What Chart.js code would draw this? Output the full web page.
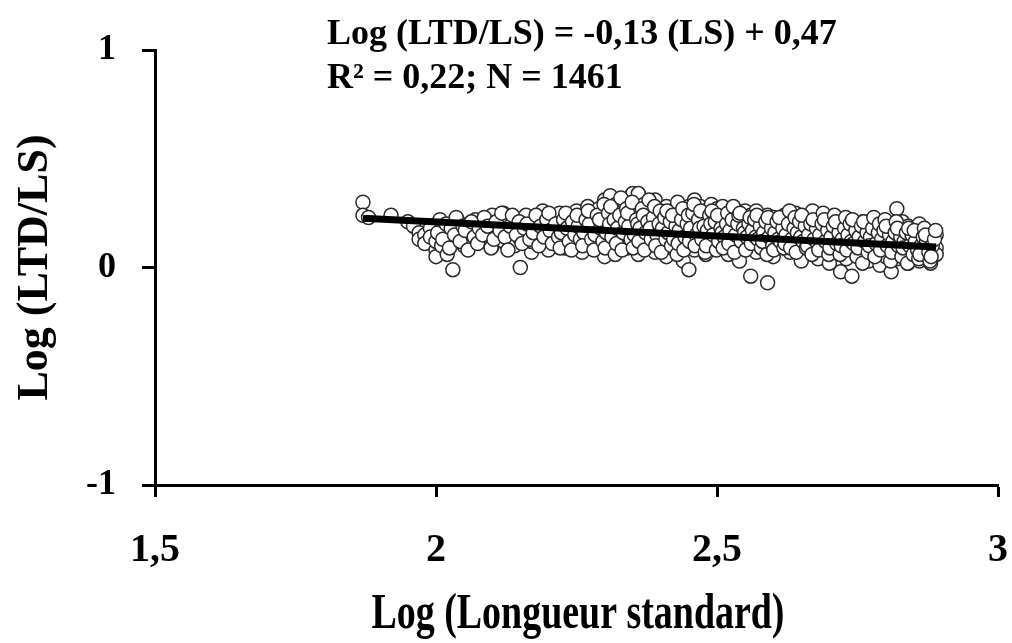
<!DOCTYPE html>
<html lang="fr">
<head>
  <meta charset="UTF-8" />
  <title>Log (LTD/LS) vs Log (Longueur standard)</title>
  <script src="https://cdn.jsdelivr.net/npm/chart.js@4.4.0/dist/chart.umd.min.js"></script>
  <style>
    body { margin: 0; background: #fff; }
    #wrap { width: 1012px; height: 643px; }
  </style>
</head>
<body>
  <div id="wrap"><canvas id="chart" width="1012" height="643"></canvas></div>

  <script>
    // points : [log LS, log (LTD/LS)]
    const points = [
      [1.87,0.30],[1.87,0.24],[1.88,0.23],[1.92,0.24],[1.95,0.21],[1.96,0.19],[1.97,0.16],[1.97,0.13],
      [1.98,0.15],[1.98,0.11],[1.99,0.18],[1.99,0.14],[2.00,0.08],[2.00,0.05],[2.00,0.12],[2.01,0.17],
      [2.01,0.10],[2.02,0.14],[2.02,0.19],[2.02,0.06],[2.03,-0.01],[2.03,0.12],[2.04,0.17],[2.04,0.21],
      [2.05,0.15],[2.05,0.10],[2.06,0.13],[2.06,0.19],[2.07,0.16],[2.07,0.22],[2.08,0.12],[2.08,0.18],
      [2.09,0.20],[2.09,0.14],[2.10,0.24],[2.10,0.17],[2.10,0.10],[2.11,0.21],[2.11,0.15],[2.12,0.19],
      [2.12,0.12],[2.12,0.25],[2.13,0.16],[2.13,0.22],[2.14,0.10],[2.14,0.18],[2.15,0.20],[2.15,0.13],
      [2.15,0.00],[2.16,0.24],[2.16,0.16],[2.17,0.19],[2.17,0.07],[2.17,0.12],[2.18,0.22],[2.18,0.15],
      [2.19,0.18],[2.19,0.26],[2.19,0.11],[2.20,0.20],[2.20,0.14],[2.20,0.08],[2.21,0.17],[2.21,0.23],
      [2.22,0.12],[2.22,0.19],[2.22,0.25],[2.23,0.15],[2.23,0.21],[2.23,0.09],[2.24,0.18],[2.24,0.13],
      [2.25,0.22],[2.25,0.16],[2.25,0.26],[2.26,0.11],[2.26,0.19],[2.26,0.07],[2.27,0.23],[2.27,0.15],
      [2.27,0.28],[2.28,0.17],[2.28,0.12],[2.28,0.21],[2.29,0.27],[2.29,0.09],[2.29,0.19],[2.30,0.31],
      [2.30,0.14],[2.30,0.22],[2.30,0.05],[2.31,0.33],[2.31,0.18],[2.31,0.25],[2.31,0.11],[2.32,0.29],
      [2.32,0.16],[2.32,0.21],[2.32,0.07],[2.33,0.26],[2.33,0.13],[2.33,0.19],[2.33,0.31],[2.34,0.23],
      [2.34,0.15],[2.34,0.09],[2.35,0.34],[2.35,0.27],[2.35,0.18],[2.35,0.12],[2.36,0.34],[2.36,0.21],
      [2.36,0.06],[2.36,0.16],[2.37,0.29],[2.37,0.24],[2.37,0.13],[2.38,0.19],[2.38,0.26],[2.38,0.10],
      [2.38,0.15],[2.39,0.22],[2.39,0.31],[2.39,0.07],[2.40,0.17],[2.40,0.25],[2.40,0.12],[2.40,0.20],
      [2.41,0.28],[2.41,0.14],[2.41,0.05],[2.42,0.23],[2.42,0.18],[2.42,0.09],[2.42,0.26],[2.43,0.15],
      [2.43,0.21],[2.43,0.30],[2.44,0.11],[2.44,0.19],[2.44,0.25],[2.44,0.03],[2.45,0.16],[2.45,0.22],
      [2.45,-0.01],[2.45,0.28],[2.46,0.13],[2.46,0.20],[2.46,0.31],[2.46,0.08],[2.47,0.17],[2.47,0.24],
      [2.47,0.11],[2.47,0.28],[2.48,0.15],[2.48,0.21],[2.48,0.06],[2.48,0.26],[2.49,0.18],[2.49,0.29],
      [2.49,0.12],[2.49,0.23],[2.50,0.14],[2.50,0.20],[2.50,0.27],[2.50,0.09],[2.51,0.22],[2.51,0.16],
      [2.51,0.28],[2.51,0.11],[2.52,0.19],[2.52,0.25],[2.52,0.06],[2.52,0.14],[2.53,0.21],[2.53,0.27],
      [2.53,0.10],[2.53,0.17],[2.54,0.23],[2.54,0.13],[2.54,0.19],[2.54,0.03],[2.55,0.26],[2.55,0.16],
      [2.55,0.21],[2.55,0.09],[2.56,0.18],[2.56,0.24],[2.56,0.12],[2.56,-0.04],[2.57,0.20],[2.57,0.15],
      [2.57,0.26],[2.57,0.07],[2.58,0.22],[2.58,0.13],[2.58,0.18],[2.58,0.10],[2.59,0.24],[2.59,0.16],
      [2.59,-0.07],[2.59,0.20],[2.60,0.11],[2.60,0.19],[2.60,0.23],[2.60,0.05],[2.61,0.15],[2.61,0.21],
      [2.61,0.13],[2.62,0.18],[2.62,0.24],[2.62,0.09],[2.62,0.14],[2.63,0.20],[2.63,0.16],[2.63,0.07],
      [2.63,0.22],[2.64,0.12],[2.64,0.18],[2.64,0.25],[2.65,0.15],[2.65,0.21],[2.65,0.10],[2.65,0.03],
      [2.66,0.17],[2.66,0.23],[2.66,0.13],[2.67,0.19],[2.67,0.08],[2.67,0.26],[2.67,0.15],[2.68,0.21],
      [2.68,0.12],[2.68,0.17],[2.68,0.04],[2.69,0.24],[2.69,0.14],[2.69,0.19],[2.69,0.09],[2.70,0.16],
      [2.70,0.22],[2.70,0.11],[2.70,0.02],[2.71,0.18],[2.71,0.13],[2.71,0.21],[2.72,0.15],[2.72,0.07],
      [2.72,0.19],[2.72,-0.02],[2.73,0.12],[2.73,0.17],[2.73,0.22],[2.73,0.04],[2.74,0.14],[2.74,0.20],
      [2.74,0.09],[2.74,-0.04],[2.75,0.16],[2.75,0.11],[2.75,0.19],[2.75,0.06],[2.76,0.13],[2.76,0.18],
      [2.76,0.08],[2.76,0.21],[2.77,0.15],[2.77,0.10],[2.77,0.03],[2.77,0.19],[2.78,0.12],[2.78,0.17],
      [2.78,0.06],[2.78,0.22],[2.79,0.14],[2.79,0.09],[2.79,0.19],[2.79,0.01],[2.80,0.11],[2.80,0.16],
      [2.80,0.05],[2.80,0.20],[2.81,0.13],[2.81,0.08],[2.81,0.18],[2.81,-0.02],[2.82,0.10],[2.82,0.15],
      [2.82,0.27],[2.82,0.04],[2.83,0.12],[2.83,0.17],[2.83,0.07],[2.83,0.21],[2.84,0.09],[2.84,0.14],
      [2.84,0.02],[2.84,0.19],[2.85,0.11],[2.85,0.06],[2.85,0.16],[2.85,0.13],[2.86,0.08],[2.86,0.15],
      [2.86,0.03],[2.86,0.20],[2.87,0.10],[2.87,0.13],[2.87,0.05],[2.87,0.17],[2.88,0.08],[2.88,0.14],
      [2.88,0.02],[2.88,0.11],[2.89,0.09],[2.89,0.15],[2.89,0.06],
      // deuxième passe, entre les colonnes
      [2.003,0.16],[2.007,0.22],[2.012,0.13],[2.018,0.20],[2.024,0.09],[2.027,0.18],[2.033,0.15],[2.036,0.23],
      [2.043,0.12],[2.048,0.19],[2.052,0.17],[2.057,0.08],[2.063,0.21],[2.068,0.14],[2.074,0.11],[2.077,0.18],
      [2.083,0.15],[2.086,0.23],[2.092,0.19],[2.098,0.09],[2.103,0.13],[2.107,0.21],[2.114,0.17],[2.117,0.25],
      [2.123,0.14],[2.128,0.08],[2.132,0.19],[2.136,0.24],[2.143,0.15],[2.148,0.21],[2.153,0.11],[2.157,0.18],
      [2.162,0.20],[2.167,0.13],[2.173,0.16],[2.178,0.24],[2.183,0.10],[2.186,0.19],[2.192,0.14],[2.197,0.22],
      [2.203,0.17],[2.207,0.11],[2.201,0.25],[2.213,0.20],[2.218,0.14],[2.223,0.16],[2.227,0.22],[2.221,0.09],
      [2.233,0.18],[2.237,0.12],[2.231,0.25],[2.243,0.21],[2.247,0.15],[2.241,0.08],[2.253,0.19],[2.257,0.13],
      [2.251,0.24],[2.263,0.16],[2.267,0.22],[2.261,0.10],[2.273,0.20],[2.277,0.13],[2.271,0.26],[2.283,0.15],
      [2.287,0.24],[2.281,0.08],[2.293,0.18],[2.297,0.12],[2.291,0.22],[2.299,0.29],[2.303,0.16],[2.307,0.25],
      [2.301,0.09],[2.309,0.20],[2.313,0.14],[2.317,0.22],[2.311,0.28],[2.319,0.06],[2.323,0.18],[2.327,0.24],
      [2.321,0.11],[2.329,0.32],[2.333,0.16],[2.337,0.21],[2.331,0.08],[2.339,0.27],[2.343,0.19],[2.347,0.13],
      [2.341,0.25],[2.349,0.30],[2.353,0.15],[2.357,0.22],[2.351,0.09],[2.359,0.20],[2.363,0.18],[2.367,0.27],
      [2.361,0.12],[2.369,0.24],[2.373,0.16],[2.377,0.21],[2.371,0.08],[2.379,0.31],[2.383,0.13],[2.387,0.23],
      [2.381,0.18],[2.389,0.28],[2.393,0.15],[2.397,0.20],[2.391,0.10],[2.399,0.26],[2.403,0.18],[2.407,0.23],
      [2.401,0.07],[2.409,0.13],[2.413,0.16],[2.417,0.21],[2.411,0.26],[2.419,0.10],[2.423,0.13],[2.427,0.19],
      [2.421,0.24],[2.429,0.06],[2.433,0.17],[2.437,0.22],[2.431,0.11],[2.439,0.27],[2.443,0.14],[2.447,0.20],
      [2.441,0.08],[2.449,0.24],[2.453,0.18],[2.457,0.25],[2.451,0.12],[2.459,0.29],[2.463,0.15],[2.467,0.22],
      [2.461,0.10],[2.469,0.18],[2.473,0.13],[2.477,0.19],[2.471,0.26],[2.479,0.07],[2.483,0.17],[2.487,0.24],
      [2.481,0.10],[2.489,0.20],[2.493,0.15],[2.497,0.21],[2.491,0.26],[2.499,0.08],[2.503,0.12],[2.507,0.18],
      [2.501,0.24],[2.509,0.16],[2.513,0.14],[2.517,0.20],[2.511,0.09],[2.519,0.25],[2.523,0.17],[2.527,0.22],
      [2.521,0.11],[2.529,0.28],[2.533,0.15],[2.537,0.20],[2.531,0.07],[2.539,0.24],[2.543,0.12],[2.547,0.18],
      [2.541,0.25],[2.549,0.16],[2.553,0.14],[2.557,0.20],[2.551,0.08],[2.559,0.23],[2.563,0.17],[2.567,0.22],
      [2.561,0.11],[2.569,0.14],[2.573,0.13],[2.577,0.19],[2.571,0.24],[2.579,0.09],[2.583,0.16],[2.587,0.21],
      [2.581,0.12],[2.589,0.06],[2.593,0.14],[2.597,0.18],[2.591,0.23],[2.599,0.10],[2.603,0.16],[2.607,0.21],
      [2.601,0.08],[2.609,0.13],[2.613,0.12],[2.617,0.18],[2.611,0.23],[2.619,0.09],[2.623,0.15],[2.627,0.20],
      [2.621,0.11],[2.629,0.26],[2.633,0.13],[2.637,0.18],[2.631,0.09],[2.639,0.23],[2.643,0.16],[2.647,0.21],
      [2.641,0.07],[2.649,0.14],[2.653,0.12],[2.657,0.19],[2.651,0.24],[2.659,0.09],[2.663,0.15],[2.667,0.20],
      [2.661,0.10],[2.669,0.06],[2.673,0.13],[2.677,0.18],[2.671,0.22],[2.679,0.11],[2.683,0.15],[2.687,0.20],
      [2.681,0.08],[2.689,0.25],[2.693,0.12],[2.697,0.17],[2.691,0.22],[2.699,0.06],[2.703,0.14],[2.707,0.19],
      [2.701,0.09],[2.709,0.24],[2.713,0.11],[2.717,0.16],[2.711,0.21],[2.719,0.06],[2.723,0.13],[2.727,0.18],
      [2.721,0.10],[2.729,0.23],[2.733,0.15],[2.737,0.20],[2.731,0.08],[2.739,0.12],[2.743,0.11],[2.747,0.17],
      [2.741,0.22],[2.749,0.05],[2.753,0.14],[2.757,0.19],[2.751,0.09],[2.759,0.02],[2.763,0.12],[2.767,0.16],
      [2.761,0.21],[2.769,0.07],[2.773,0.14],[2.777,0.18],[2.771,0.10],[2.779,0.23],[2.783,0.11],[2.787,0.16],
      [2.781,0.05],[2.789,0.20],[2.793,0.13],[2.797,0.17],[2.791,0.08],[2.799,0.22],[2.803,0.10],[2.807,0.15],
      [2.801,0.19],[2.809,0.03],[2.813,0.12],[2.817,0.16],[2.811,0.07],[2.819,0.21],[2.823,0.10],[2.827,0.14],
      [2.821,0.18],[2.829,0.05],[2.833,0.12],[2.837,0.16],[2.831,0.09],[2.839,0.02],[2.843,0.10],[2.847,0.15],
      [2.841,0.18],[2.849,0.06],[2.853,0.12],[2.857,0.08],[2.851,0.17],[2.859,0.04],[2.863,0.10],[2.867,0.14],
      [2.861,0.06],[2.869,0.18],[2.873,0.12],[2.877,0.07],[2.871,0.15],[2.879,0.03],[2.883,0.10],[2.887,0.13],
      [2.881,0.05],[2.889,0.17]
    ];

    // droite de régression
    const slope = -0.13;
    const intercept = 0.47;
    const equationLines = ['Log (LTD/LS) = -0,13 (LS) + 0,47', 'R\u00b2 = 0,22; N = 1461'];
    const xTitle = 'Log (Longueur standard)';
    const yTitle = 'Log (LTD/LS)';

    const xTicks = [1.5, 2, 2.5, 3];
    const yTicks = [-1, 0, 1];

    const scatterData = points.map(p => ({ x: p[0], y: p[1] }));
    const xs = points.map(p => p[0]);
    const xMin = Math.min(...xs), xMax = Math.max(...xs);
    const fitData = [xMin, xMax].map(x => ({ x: x, y: intercept + slope * x }));

    const serif = '"Liberation Serif", "Times New Roman", serif';

    const textPlugin = {
      id: 'texts',
      afterDraw(chart) {
        const ctx = chart.ctx;
        ctx.save();
        ctx.fillStyle = '#000';
        ctx.textBaseline = 'alphabetic';
        ctx.textAlign = 'left';
        ctx.font = 'bold 36px ' + serif;
        ctx.fillText(equationLines[0], 327, 44);
        ctx.fillText(equationLines[1], 327, 88);

        // titre de l'axe x, un peu condensé comme dans l'original
        ctx.font = 'bold 50px ' + serif;
        const w = ctx.measureText(xTitle).width;
        ctx.translate(578, 628);
        ctx.scale(413 / w, 1);
        ctx.textAlign = 'center';
        ctx.fillText(xTitle, 0, 0);
        ctx.restore();
      }
    };

    new Chart(document.getElementById('chart'), {
      type: 'scatter',
      data: {
        datasets: [
          {
            type: 'line',
            data: fitData,
            borderColor: '#000',
            borderWidth: 7,
            pointRadius: 0,
            fill: false,
            order: 0
          },
          {
            data: scatterData,
            pointRadius: 7,
            pointBorderWidth: 1.5,
            borderColor: '#2a2a2a',
            backgroundColor: '#fff',
            order: 1
          }
        ]
      },
      options: {
        responsive: false,
        animation: false,
        layout: { padding: { left: 0, top: 50, right: 14, bottom: 0 } },
        plugins: { legend: { display: false }, tooltip: { enabled: false } },
        scales: {
          x: {
            type: 'linear',
            min: 1.5,
            max: 3,
            afterBuildTicks(scale) { scale.ticks = xTicks.map(v => ({ value: v })); },
            afterFit(scale) {
              scale.height = 158;
              scale.paddingLeft = 0;
              scale.paddingRight = 0;
            },
            ticks: {
              color: '#000',
              padding: 30,
              font: { family: serif, size: 40, weight: 'bold' },
              callback: v => String(v).replace('.', ',')
            },
            grid: { drawOnChartArea: false, drawTicks: true, tickLength: 12, tickWidth: 3, tickColor: '#000' },
            border: { display: true, width: 3, color: '#000' }
          },
          y: {
            type: 'linear',
            min: -1,
            max: 1,
            afterBuildTicks(scale) { scale.ticks = yTicks.map(v => ({ value: v })); },
            afterFit(scale) { scale.width = 155; },
            ticks: {
              color: '#000',
              padding: 26,
              font: { family: serif, size: 36, weight: 'bold' }
            },
            grid: { drawOnChartArea: false, drawTicks: true, tickLength: 13, tickWidth: 3, tickColor: '#000' },
            border: { display: true, width: 3, color: '#000' },
            title: {
              display: true,
              text: yTitle,
              color: '#000',
              font: { family: serif, size: 44, weight: 'bold' },
              padding: { top: 9, bottom: 0 }
            }
          }
        }
      },
      plugins: [textPlugin]
    });
  </script>
</body>
</html>
